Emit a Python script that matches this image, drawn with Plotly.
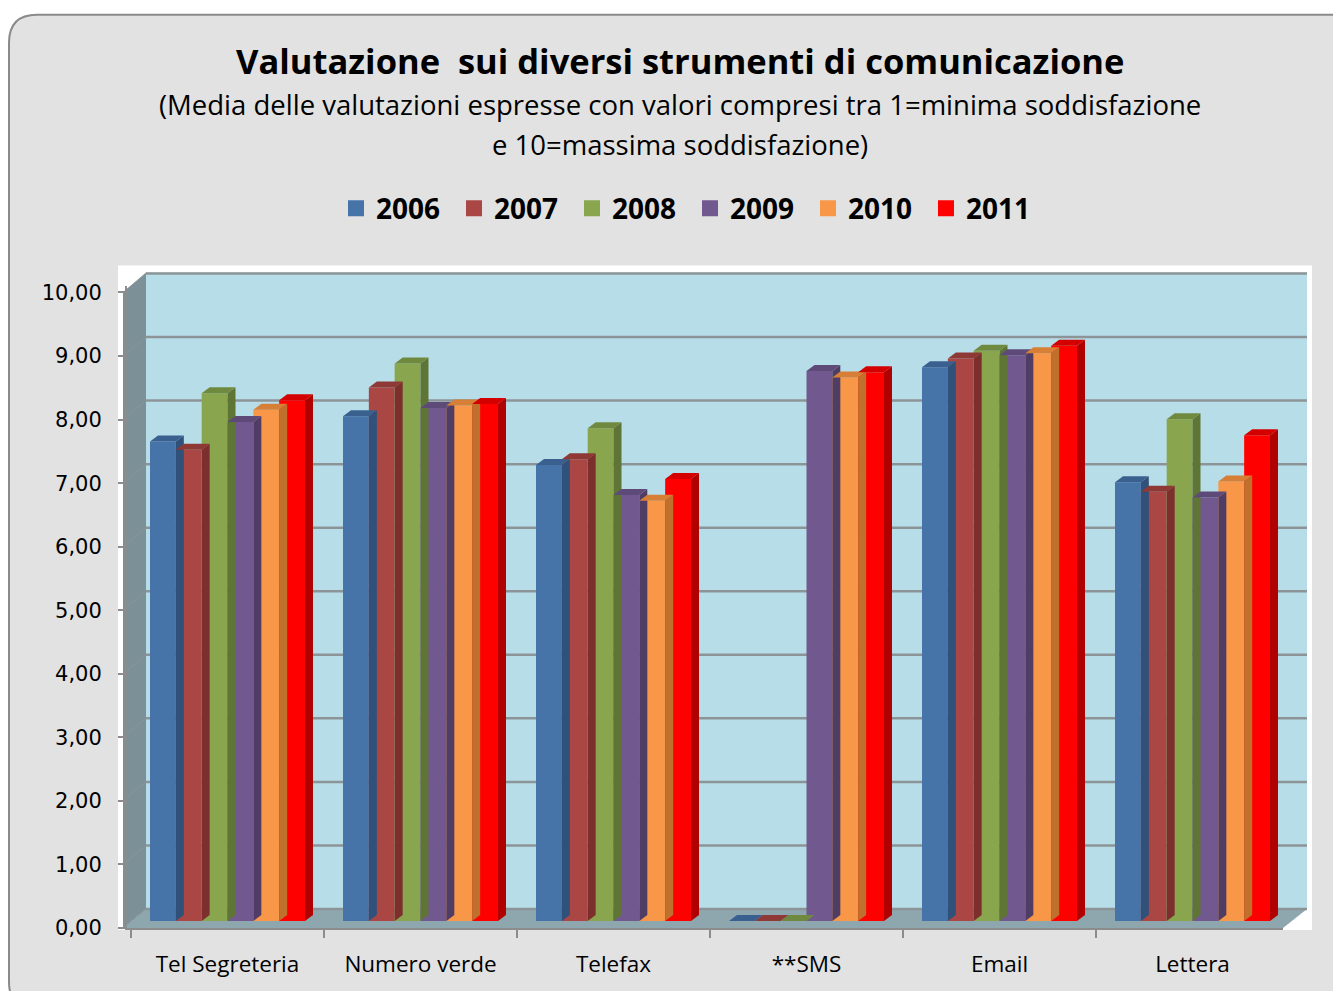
import plotly.graph_objects as go

categories = ["Tel Segreteria", "Numero verde", "Telefax", "**SMS", "Email", "Lettera"]
years = ["2006", "2007", "2008", "2009", "2010", "2011"]
v2006 = [7.55, 7.95, 7.18, 0.0, 8.72, 6.91]
v2007 = [7.42, 8.40, 7.27, 0.0, 8.86, 6.76]
v2008 = [8.31, 8.78, 7.76, 0.0, 8.98, 7.90]
v2009 = [7.86, 8.08, 6.71, 8.66, 8.91, 6.67]
v2010 = [8.05, 8.12, 6.62, 8.56, 8.94, 6.92]
v2011 = [8.20, 8.14, 6.96, 8.64, 9.06, 7.65]
series = [v2006, v2007, v2008, v2009, v2010, v2011]
colors = ["#4673a8", "#aa4744", "#89a54e", "#71598f", "#f79747", "#ff0000"]
side_colors = ["#2f517a", "#7c2f2d", "#5f7536", "#4f3d66", "#c0702d", "#b00000"]
top_colors = ["#3a6090", "#8e3936", "#6f8a3f", "#5e4a78", "#d77f36", "#d40000"]
y_ticks = [0, 1, 2, 3, 4, 5, 6, 7, 8, 9, 10]

W, H = 1341, 991
OFF = 8  # page body margin
# plot area in page pixels (reference coordinates)
L, R, T, B = 127, 1283, 285.5, 928
PW, PH = R - L, B - T
CAT_W = 193.0
C0 = 227.5            # pixel centre of first group
ZERO_PX = 921.0       # pixel of bar base
SCALE = 63.55         # px per unit (bars)
BARGAP = 0.197

xr = [(L - C0) / CAT_W, (R - C0) / CAT_W]
yr = [(ZERO_PX - B) / SCALE, (ZERO_PX - T) / SCALE]


def px(x):
    return (x - L) / PW


def py(y):
    return (B - y) / PH


FONT = "Open Sans"
fig = go.Figure()
for name, vals, col in zip(years, series, colors):
    fig.add_trace(go.Bar(x=categories, y=vals, name=name, showlegend=False,
                         marker=dict(color=col, line=dict(width=0))))
# legend entries with larger square swatches
for name, col in zip(years, colors):
    fig.add_trace(go.Scatter(x=[None], y=[None], mode="markers", name=name,
                             marker=dict(symbol="square", size=18, color=col)))

shapes = []
rad = 28


def rounded(xa, ya, xb, yb, rr):
    return (f"M {px(xa+rr)} {py(ya)} L {px(xb-rr)} {py(ya)} Q {px(xb)} {py(ya)} {px(xb)} {py(ya+rr)} "
            f"L {px(xb)} {py(yb-rr)} Q {px(xb)} {py(yb)} {px(xb-rr)} {py(yb)} L {px(xa+rr)} {py(yb)} "
            f"Q {px(xa)} {py(yb)} {px(xa)} {py(yb-rr)} L {px(xa)} {py(ya+rr)} Q {px(xa)} {py(ya)} {px(xa+rr)} {py(ya)} Z")


shapes.append(dict(type="path", xref="paper", yref="paper", path=rounded(9, 14, 1360, 1010, rad),
                   fillcolor="#e2e2e2", line=dict(color="#8a8a8a", width=2), layer="below"))
# white plot-area background
shapes.append(dict(type="rect", xref="paper", yref="paper", x0=px(118), x1=px(1312), y0=py(930), y1=py(265),
                   fillcolor="white", line=dict(width=0), layer="below"))
# back wall
shapes.append(dict(type="rect", xref="paper", yref="paper", x0=px(146), x1=px(1307), y0=py(909), y1=py(272),
                   fillcolor="#b7dee8", line=dict(width=0), layer="below"))
# side wall
shapes.append(dict(type="path", xref="paper", yref="paper",
                   path=f"M {px(123)} {py(928)} L {px(123)} {py(292)} L {px(146)} {py(272)} L {px(146)} {py(909)} Z",
                   fillcolor="#7b9197", line=dict(width=0), layer="below"))
# floor
shapes.append(dict(type="path", xref="paper", yref="paper",
                   path=f"M {px(123)} {py(928)} L {px(146)} {py(909)} L {px(1307)} {py(909)} L {px(1283)} {py(928)} Z",
                   fillcolor="#8ea7ae", line=dict(width=0), layer="below"))
# gridlines on back wall and side wall
for k in y_ticks:
    yb = 909 - 63.6 * k
    yf = 928 - 63.6 * k
    shapes.append(dict(type="line", xref="paper", yref="paper", x0=px(146), x1=px(1307), y0=py(yb), y1=py(yb),
                       line=dict(color="#8c9497", width=2.5), layer="below"))
    shapes.append(dict(type="line", xref="paper", yref="paper", x0=px(123), x1=px(146), y0=py(yf), y1=py(yb),
                       line=dict(color="#8c9497", width=1), layer="below"))

# 3D faces for bars (data coordinates)
n = len(series)
bw = (1 - BARGAP) / n
dx = 8.0 / CAT_W
dy = 6.0 / SCALE
for j, vals in enumerate(series):
    for i, v in enumerate(vals):
        xl = i - (1 - BARGAP) / 2 + bw * j
        xrr = xl + bw
        shapes.append(dict(type="path", xref="x", yref="y",
                           path=f"M {xrr} 0 L {xrr} {v} L {xrr+dx} {v+dy} L {xrr+dx} {dy} Z",
                           fillcolor=side_colors[j], line=dict(width=0), layer="above"))
        shapes.append(dict(type="path", xref="x", yref="y",
                           path=f"M {xl} {v} L {xrr} {v} L {xrr+dx} {v+dy} L {xl+dx} {v+dy} Z",
                           fillcolor=top_colors[j], line=dict(width=0), layer="above"))

annotations = [
    dict(text="<b>Valutazione\u00a0 sui diversi strumenti di comunicazione</b>", xref="paper", yref="paper",
         x=px(680), y=py(60), xanchor="center", yanchor="middle", showarrow=False,
         font=dict(family=FONT, size=34.5, color="black")),
    dict(text="(Media delle valutazioni espresse con valori compresi tra 1=minima soddisfazione", xref="paper", yref="paper",
         x=px(680), y=py(104), xanchor="center", yanchor="middle", showarrow=False,
         font=dict(family=FONT, size=27.5, color="black")),
    dict(text="e 10=massima soddisfazione)", xref="paper", yref="paper",
         x=px(680), y=py(144), xanchor="center", yanchor="middle", showarrow=False,
         font=dict(family=FONT, size=27.5, color="black")),
]

fig.update_layout(
    width=W, height=H,
    margin=dict(l=L - OFF, r=W - (R - OFF), t=T - OFF, b=H - (B - OFF), autoexpand=False),
    paper_bgcolor="white", plot_bgcolor="rgba(0,0,0,0)",
    barmode="group", bargap=BARGAP, bargroupgap=0,
    separators=",.",
    showlegend=True,
    legend=dict(orientation="h", x=px(690), xanchor="center", y=py(208), yanchor="middle",
                font=dict(family=FONT, size=28, color="black", weight="bold"), bgcolor="rgba(0,0,0,0)",
                itemsizing="trace", itemwidth=30, entrywidth=73, tracegroupgap=0),
    xaxis=dict(range=xr, showgrid=False, showline=True, linecolor="#8c8c8c", linewidth=2,
               ticks="outside", tickson="boundaries", ticklen=8, tickcolor="#8c8c8c", tickwidth=2,
               tickfont=dict(family=FONT, size=22.5, color="black"), ticklabelstandoff=15, zeroline=False),
    yaxis=dict(range=yr, showgrid=False, showticklabels=False, zeroline=False, showline=False),
    yaxis2=dict(overlaying="y", side="left", range=[0, (B - T) / 63.6], tickvals=y_ticks, tickformat=".2f",
                showgrid=False, zeroline=False, showline=True, linecolor="#8c8c8c", linewidth=2,
                ticks="outside", ticklen=7, tickcolor="#8c8c8c", tickwidth=2,
                tickfont=dict(family="DejaVu Sans", size=21, color="black"), ticklabelstandoff=12),
    shapes=shapes, annotations=annotations,
)
fig.add_trace(go.Scatter(x=[categories[0]], y=[0], yaxis="y2", mode="markers", marker=dict(opacity=0),
                         showlegend=False, hoverinfo="skip"))
fig.write_html("out.html")
